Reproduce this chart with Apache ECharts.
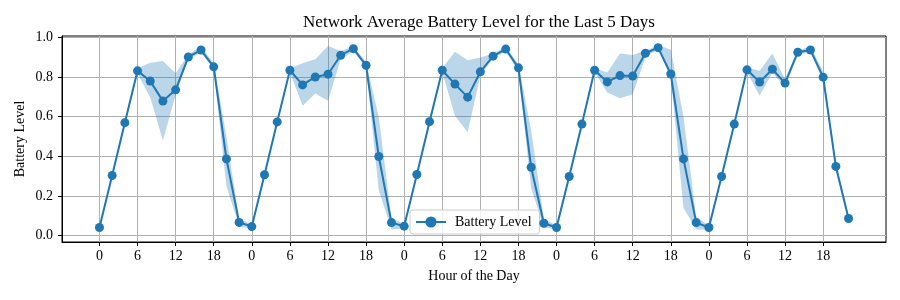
<!DOCTYPE html>
<html>
<head>
<meta charset="utf-8">
<script src="https://cdn.jsdelivr.net/npm/echarts@6/dist/echarts.min.js"></script>
<style>html,body{margin:0;padding:0;background:#fff}#c{width:900px;height:300px}</style>
</head>
<body>
<div id="c"></div>
<script>
// Hours since start (2-hour steps over 5 days)
var hours = [];
for (var h = 0; h < 120; h += 2) hours.push(h);

var batteryMean = [
  0.040, 0.303, 0.570, 0.832, 0.780, 0.679, 0.736, 0.902, 0.937, 0.852, 0.387, 0.066,
  0.045, 0.307, 0.574, 0.835, 0.761, 0.801, 0.815, 0.911, 0.944, 0.860, 0.399, 0.065,
  0.047, 0.308, 0.575, 0.835, 0.765, 0.699, 0.827, 0.906, 0.942, 0.847, 0.345, 0.062,
  0.040, 0.298, 0.563, 0.835, 0.776, 0.808, 0.806, 0.921, 0.949, 0.816, 0.387, 0.065,
  0.040, 0.298, 0.563, 0.837, 0.775, 0.840, 0.770, 0.926, 0.937, 0.800, 0.349, 0.086
];
var batteryLower = [
  0.032, 0.295, 0.560, 0.820, 0.697, 0.480, 0.710, 0.890, 0.925, 0.840, 0.250, 0.045,
  0.035, 0.300, 0.565, 0.825, 0.656, 0.717, 0.681, 0.890, 0.930, 0.850, 0.228, 0.030,
  0.035, 0.300, 0.565, 0.825, 0.605, 0.521, 0.807, 0.895, 0.930, 0.830, 0.240, 0.040,
  0.030, 0.290, 0.555, 0.825, 0.723, 0.693, 0.714, 0.900, 0.940, 0.800, 0.140, 0.030,
  0.030, 0.290, 0.555, 0.825, 0.706, 0.823, 0.748, 0.915, 0.925, 0.780, 0.330, 0.075
];
var batteryUpper = [
  0.048, 0.311, 0.580, 0.845, 0.873, 0.882, 0.820, 0.915, 0.955, 0.870, 0.500, 0.085,
  0.055, 0.315, 0.583, 0.845, 0.870, 0.890, 0.957, 0.932, 0.955, 0.875, 0.597, 0.090,
  0.055, 0.315, 0.585, 0.845, 0.929, 0.886, 0.899, 0.920, 0.955, 0.865, 0.530, 0.085,
  0.050, 0.305, 0.570, 0.845, 0.823, 0.919, 0.912, 0.935, 0.960, 0.940, 0.600, 0.095,
  0.050, 0.305, 0.570, 0.848, 0.832, 0.919, 0.790, 0.935, 0.955, 0.830, 0.370, 0.100
];
var xTicks = [0, 6, 12, 18, 24, 30, 36, 42, 48, 54, 60, 66, 72, 78, 84, 90, 96, 102, 108, 114];
var yTicks = [0.0, 0.2, 0.4, 0.6, 0.8, 1.0];

var FONT = 'Liberation Serif';
var meanData = hours.map(function (x, i) { return [x, batteryMean[i]]; });
var bandData = hours.map(function (x, i) { return [x, batteryLower[i], batteryUpper[i]]; });

function renderBand(params, api) {
  if (params.dataIndex !== 0) return null;
  var pts = [];
  var i;
  for (i = 0; i < bandData.length; i++) pts.push(api.coord([bandData[i][0], bandData[i][2]]));
  for (i = bandData.length - 1; i >= 0; i--) pts.push(api.coord([bandData[i][0], bandData[i][1]]));
  return {
    type: 'polygon',
    shape: { points: pts },
    style: { fill: 'rgba(31,119,180,0.3)', stroke: null }
  };
}

var chart = echarts.init(document.getElementById('c'), null, { renderer: 'canvas' });
chart.setOption({
  animation: false,
  backgroundColor: '#ffffff',
  textStyle: { fontFamily: FONT },
  title: {
    text: 'Network Average Battery Level for the Last 5 Days',
    left: 474, textAlign: 'center', top: 9,
    textStyle: { fontFamily: FONT, fontSize: 17, fontWeight: 'normal', color: '#000' }
  },
  grid: { left: 62, right: 14, top: 36, bottom: 58, show: true, borderColor: '#000', borderWidth: 1, containLabel: false },
  legend: {
    data: ['Battery Level'],
    left: 410, top: 210,
    orient: 'horizontal',
    padding: [5, 8, 5, 5],
    itemWidth: 30, itemHeight: 14,
    backgroundColor: 'rgba(255,255,255,0.8)',
    borderColor: '#cccccc', borderWidth: 1, borderRadius: 3,
    textStyle: { fontFamily: FONT, fontSize: 14, color: '#000', padding: [0, 0, 0, 4] }
  },
  xAxis: {
    type: 'value', min: -5.9, max: 123.9,
    name: 'Hour of the Day', nameLocation: 'middle', nameGap: 27, nameMoveOverlap: false,
    nameTextStyle: { fontFamily: FONT, fontSize: 14, color: '#000' },
    axisLine: { show: true, onZero: false, lineStyle: { color: '#000', width: 1 } },
    axisTick: { show: true, inside: false, length: 4, customValues: xTicks, lineStyle: { color: '#000' } },
    axisLabel: { customValues: xTicks, margin: 7, fontFamily: FONT, fontSize: 14, color: '#000',
      formatter: function (v) { return String(Math.round(v) % 24); } },
    splitLine: { show: true, lineStyle: { color: '#b0b0b0', width: 1 } }
  },
  yAxis: {
    type: 'value', min: -0.033, max: 1.008,
    name: 'Battery Level', nameLocation: 'middle', nameGap: 35, nameMoveOverlap: false,
    nameTextStyle: { fontFamily: FONT, fontSize: 14, color: '#000' },
    axisLine: { show: true, onZero: false, lineStyle: { color: '#000', width: 1 } },
    axisTick: { show: true, inside: false, length: 4, customValues: yTicks, lineStyle: { color: '#000' } },
    axisLabel: { customValues: yTicks, margin: 9, fontFamily: FONT, fontSize: 14, color: '#000',
      formatter: function (v) { return v.toFixed(1); } },
    splitLine: { show: true, lineStyle: { color: '#b0b0b0', width: 1 } }
  },
  series: [
    {
      name: 'band', type: 'custom', data: bandData, silent: true,
      renderItem: renderBand, z: 2,
      encode: { x: 0, y: [1, 2] }
    },
    {
      name: 'Battery Level', type: 'line', data: meanData,
      symbol: 'circle', symbolSize: 9, showSymbol: true,
      itemStyle: { color: '#1f77b4' },
      lineStyle: { color: '#1f77b4', width: 2 }, z: 5
    }
  ]
});
</script>
</body>
</html>
